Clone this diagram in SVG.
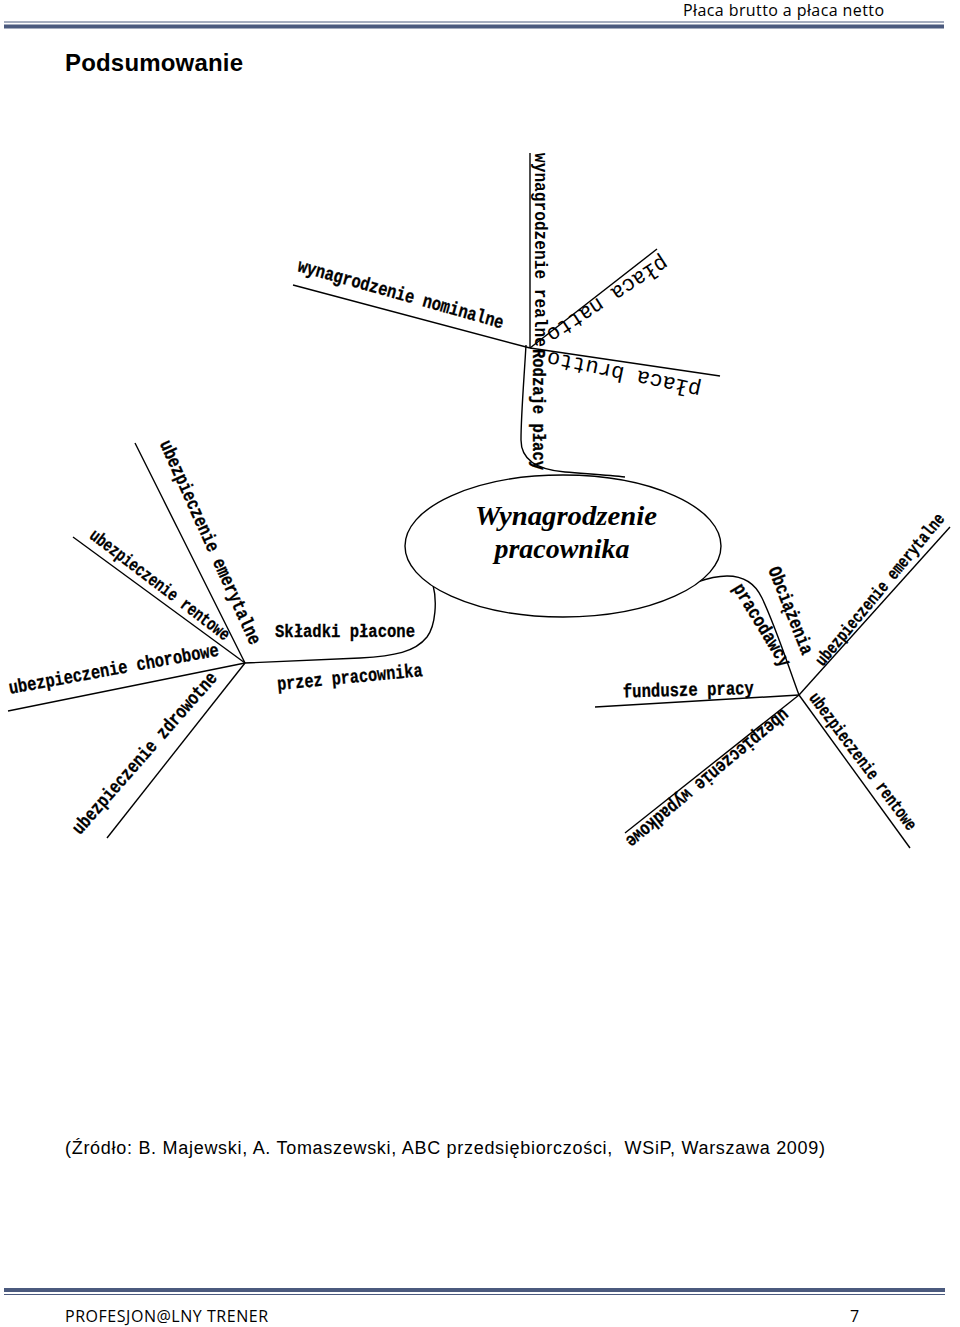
<svg xmlns="http://www.w3.org/2000/svg" width="960" height="1327" viewBox="0 0 960 1327">
<style>
.ln{stroke:#000;stroke-width:1.4;fill:none}
.lb{font-family:"Liberation Mono","Courier New",monospace;font-weight:bold;fill:#000;stroke:#000;stroke-width:0.3}
.lm{font-family:"Liberation Mono","Courier New",monospace;font-weight:bold;fill:#000}
.lr{font-family:"Liberation Mono","Courier New",monospace;font-weight:normal;fill:#000}
.rule{stroke:#4b5a7e}
.hd{font-family:"Open Sans","Liberation Sans",sans-serif;fill:#000}
</style>
<rect width="960" height="1327" fill="#fff"/>
<g id="header">
<line class="rule" x1="4" y1="22" x2="944" y2="22" stroke-width="1"/>
<line class="rule" x1="4" y1="26.5" x2="944" y2="26.5" stroke-width="4"/>
<text class="hd" x="683" y="16" font-size="16" textLength="201">Płaca brutto a płaca netto</text>
<text x="65" y="71" font-family="Liberation Sans, Arial, sans-serif" font-weight="bold" font-size="24" textLength="178">Podsumowanie</text>
</g>
<g id="connectors">
<path class="ln" d="M526 345 C524 380 521 415 521 440 C521 462 540 470 565 472 C590 474 610 475 625 477"/>
<line class="ln" x1="530" y1="153" x2="530" y2="348"/>
<line class="ln" x1="293" y1="285" x2="530" y2="348"/>
<line class="ln" x1="530" y1="348" x2="657" y2="249"/>
<line class="ln" x1="530" y1="348" x2="720" y2="376"/>
<path class="ln" d="M433 585 C437 600 436 625 427 637 C415 652 395 656 360 658 L245 663"/>
<line class="ln" x1="245" y1="663" x2="135" y2="443"/>
<line class="ln" x1="245" y1="663" x2="73" y2="537"/>
<line class="ln" x1="245" y1="663" x2="8" y2="711"/>
<line class="ln" x1="245" y1="663" x2="107" y2="838"/>
<path class="ln" d="M697 582 C725 572 750 572 762 598 C775 625 788 665 799 695"/>
<line class="ln" x1="799" y1="695" x2="950" y2="527"/>
<line class="ln" x1="799" y1="695" x2="595" y2="707"/>
<line class="ln" x1="799" y1="695" x2="625" y2="833"/>
<line class="ln" x1="799" y1="695" x2="910" y2="848"/>
</g>
<g id="center">
<ellipse cx="563" cy="546" rx="158" ry="71" fill="#fff" stroke="#000" stroke-width="1.4"/>
<text x="566" y="525" text-anchor="middle" font-family="Liberation Serif, Times New Roman, serif" font-weight="bold" font-style="italic" font-size="28" textLength="182" lengthAdjust="spacingAndGlyphs">Wynagrodzenie</text>
<text x="562" y="558" text-anchor="middle" font-family="Liberation Serif, Times New Roman, serif" font-weight="bold" font-style="italic" font-size="28" textLength="135" lengthAdjust="spacingAndGlyphs">pracownika</text>
</g>
<g id="rodzaje-placy">
<text class="lb" font-size="19" textLength="121" lengthAdjust="spacingAndGlyphs" transform="translate(533,349) rotate(90)">Rodzaje płacy</text>
</g>
<g id="wynagrodzenie-realne">
<text class="lm" font-size="19" textLength="194" lengthAdjust="spacingAndGlyphs" transform="translate(535,153) rotate(90)">wynagrodzenie realne</text>
</g>
<g id="wynagrodzenie-nominalne">
<text class="lb" font-size="19" textLength="213" lengthAdjust="spacingAndGlyphs" transform="translate(296.7,271) rotate(15.7)">wynagrodzenie nominalne</text>
</g>
<g id="placa-natto">
<text class="lr" font-size="22" textLength="140" lengthAdjust="spacingAndGlyphs" transform="translate(662.6,255.4) rotate(147)">płaca natto</text>
</g>
<g id="placa-brutto">
<text class="lr" font-size="22" textLength="157" lengthAdjust="spacingAndGlyphs" transform="translate(702,384) rotate(192)">płaca brutto</text>
</g>
<g id="skladki">
<text class="lb" font-size="19" textLength="140" lengthAdjust="spacingAndGlyphs" x="275" y="637">Składki płacone</text>
<text class="lb" font-size="19" textLength="146" lengthAdjust="spacingAndGlyphs" transform="translate(277.7,690) rotate(-5.5)">przez pracownika</text>
</g>
<g id="l-emerytalne">
<text class="lb" font-size="19" textLength="222" lengthAdjust="spacingAndGlyphs" transform="translate(159.5,443.5) rotate(65.8)">ubezpieczenie emerytalne</text>
</g>
<g id="l-rentowe">
<text class="lb" font-size="18" textLength="171" lengthAdjust="spacingAndGlyphs" transform="translate(88.5,537.5) rotate(37.3)">ubezpieczenie rentowe</text>
</g>
<g id="l-chorobowe">
<text class="lb" font-size="19" textLength="213" lengthAdjust="spacingAndGlyphs" transform="translate(10,694) rotate(-10.4)">ubezpieczenie chorobowe</text>
</g>
<g id="l-zdrowotne">
<text class="lb" font-size="19" textLength="209" lengthAdjust="spacingAndGlyphs" transform="translate(80,835.5) rotate(-48.7)">ubezpieczenie zdrowotne</text>
</g>
<g id="obciazenia">
<text class="lb" font-size="19" textLength="93" lengthAdjust="spacingAndGlyphs" transform="translate(768,569.5) rotate(68.3)">Obciążenia</text>
<text class="lb" font-size="19" textLength="94" lengthAdjust="spacingAndGlyphs" transform="translate(732.5,588) rotate(58.6)">pracodawcy</text>
</g>
<g id="r-emerytalne">
<text class="lb" font-size="17.5" textLength="192" lengthAdjust="spacingAndGlyphs" transform="translate(823,667) rotate(-50.4)">ubezpieczenie emerytalne</text>
</g>
<g id="fundusze-pracy">
<text class="lb" font-size="19" textLength="131" lengthAdjust="spacingAndGlyphs" transform="translate(623,697.5) rotate(-1.5)">fundusze pracy</text>
</g>
<g id="r-wypadkowe">
<text class="lb" font-size="19" textLength="206" lengthAdjust="spacingAndGlyphs" transform="translate(783,708) rotate(140.3)">ubezpieczenie wypadkowe</text>
</g>
<g id="r-rentowe">
<text class="lb" font-size="18" textLength="167" lengthAdjust="spacingAndGlyphs" transform="translate(808.5,698) rotate(53.2)">ubezpieczenie rentowe</text>
</g>
<g id="source">
<text x="65" y="1154" font-family="Liberation Sans, Arial, sans-serif" font-size="18" textLength="760">(Źródło: B. Majewski, A. Tomaszewski, ABC przedsiębiorczości,&#160; WSiP, Warszawa 2009)</text>
</g>
<g id="footer">
<line class="rule" x1="4" y1="1290" x2="945" y2="1290" stroke-width="4"/>
<line class="rule" x1="4" y1="1294.5" x2="945" y2="1294.5" stroke-width="1"/>
<text class="hd" x="65" y="1322" font-size="16" textLength="203">PROFESJON@LNY TRENER</text>
<text class="hd" x="850" y="1322" font-size="16">7</text>
</g>
</svg>
